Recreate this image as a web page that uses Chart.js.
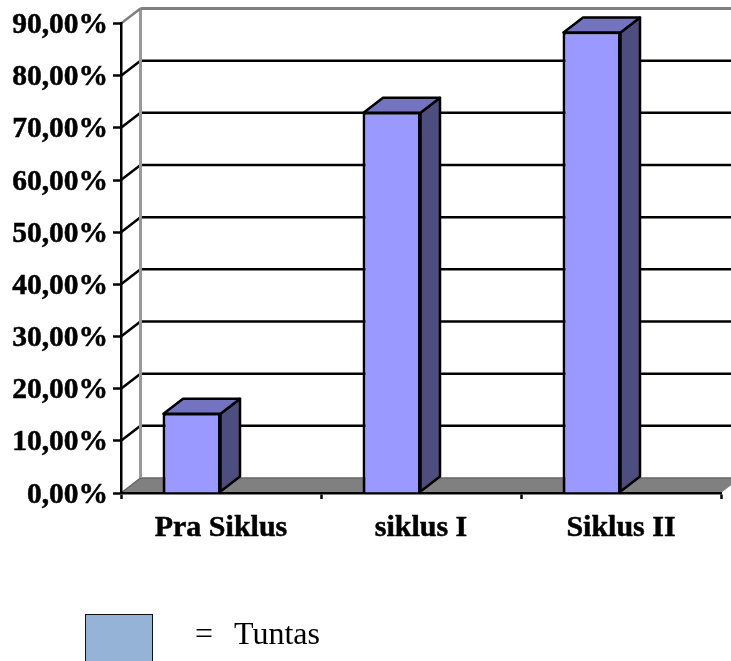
<!DOCTYPE html>
<html>
<head>
<meta charset="utf-8">
<style>
html, body { margin: 0; padding: 0; background: #fff; overflow: hidden; }
#wrap { position: relative; width: 731px; height: 661px; overflow: hidden; }
#grafik { position: absolute; left: 0; top: 0; }
#kotak { position: absolute; left: 85px; top: 614px; width: 68px; height: 60px; background: #95b3d7; border: 1.5px solid #111; box-sizing: border-box; }
.ket { position: absolute; top: 615px; font: 32px "Liberation Serif", serif; color: #000; white-space: pre; line-height: 36px; }
</style>
</head>
<body>
<div id="wrap">
  <canvas id="grafik" width="731" height="661"></canvas>
  <div id="kotak"></div>
  <div class="ket" style="left:195px">=</div>
  <div class="ket" style="left:234px">Tuntas</div>
</div>
<script src="https://cdn.jsdelivr.net/npm/chart.js@4"></script>
<script>
const kategori = ['Pra Siklus', 'siklus I', 'Siklus II'];
const nilaiTuntas = [15.38, 73.08, 88.46];
const labelSumbuY = ['0,00%', '10,00%', '20,00%', '30,00%', '40,00%', '50,00%', '60,00%', '70,00%', '80,00%', '90,00%'];

// kedalaman efek 3D
const DX = 19.5, DY = -15;
const TEBAL = 2.5;
const fontLabel = { family: '"Liberation Serif", serif', size: 30, weight: 'bold' };
const fontSumbuY = { family: '"Liberation Serif", serif', size: 29.5, weight: 'bold' };

function garis(ctx, x1, y1, x2, y2, warna, tebal) {
    ctx.strokeStyle = warna;
    ctx.lineWidth = tebal;
    ctx.beginPath();
    ctx.moveTo(x1, y1);
    ctx.lineTo(x2, y2);
    ctx.stroke();
}

function bidang(ctx, titik, warna) {
    ctx.fillStyle = warna;
    ctx.beginPath();
    titik.forEach((p, i) => i ? ctx.lineTo(p[0], p[1]) : ctx.moveTo(p[0], p[1]));
    ctx.closePath();
    ctx.fill();
    ctx.strokeStyle = '#000';
    ctx.lineWidth = TEBAL;
    ctx.lineJoin = 'round';
    ctx.stroke();
}

const efek3D = {
    id: 'efek3D',
    beforeDraw(chart) {
        const { ctx, chartArea: a, scales: { y } } = chart;
        ctx.save();
        // lantai
        ctx.fillStyle = '#808080';
        ctx.beginPath();
        ctx.moveTo(a.left, a.bottom);
        ctx.lineTo(a.right, a.bottom);
        ctx.lineTo(a.right + DX, a.bottom + DY);
        ctx.lineTo(a.left + DX, a.bottom + DY);
        ctx.closePath();
        ctx.fill();
        garis(ctx, a.left + DX, a.bottom + DY, a.right + DX, a.bottom + DY, '#666', 1.5);
        // garis bantu di dinding belakang
        y.ticks.forEach(t => {
            if (t.value === 0 || t.value === y.max) return;
            const py = y.getPixelForValue(t.value);
            garis(ctx, a.left, py, a.left + DX, py + DY, '#000', TEBAL);
            garis(ctx, a.left + DX, py + DY, a.right + DX, py + DY, '#000', TEBAL);
        });
        // dinding
        const atas = y.getPixelForValue(y.max);
        garis(ctx, a.left + DX, atas + DY, a.left + DX, a.bottom + DY, '#999', 3);
        garis(ctx, a.left, atas, a.left + DX, atas + DY, '#808080', 2.5);
        garis(ctx, a.left + DX, atas + DY, a.right + DX, atas + DY, '#808080', 3);
        garis(ctx, a.left, a.bottom, a.left + DX, a.bottom + DY, '#666', 1.5);
        ctx.restore();
    },
    afterDatasetsDraw(chart) {
        const { ctx } = chart;
        ctx.save();
        chart.getDatasetMeta(0).data.forEach(b => {
            const kiri = b.x - b.width / 2 + 1, kanan = b.x + b.width / 2 - 0.5;
            const atas = b.y + 1, bawah = b.base - 1;
            bidang(ctx, [[kanan, atas], [kanan + DX, atas + DY], [kanan + DX, bawah + DY], [kanan, bawah]], '#4d4d80');
            bidang(ctx, [[kiri, atas], [kiri + DX, atas + DY], [kanan + DX, atas + DY], [kanan, atas]], '#7373bf');
        });
        ctx.restore();
    }
};

new Chart(document.getElementById('grafik'), {
    type: 'bar',
    data: {
        labels: kategori,
        datasets: [
            { label: 'Tuntas', data: nilaiTuntas, backgroundColor: '#9999ff', borderColor: '#000', borderWidth: 3 },
            // slot kosong supaya batang berada di kiri tengah kategori
            { label: '', data: [] }
        ]
    },
    options: {
        responsive: false,
        animation: false,
        layout: { padding: { left: 0, right: 10, top: 23.5, bottom: 0 } },
        categoryPercentage: 0.585,
        barPercentage: 1,
        plugins: { legend: { display: false }, tooltip: { enabled: false } },
        scales: {
            x: {
                afterFit: s => { s.height = 168; },
                grid: { drawOnChartArea: false, tickLength: 6, tickColor: '#000', tickWidth: TEBAL },
                border: { color: '#000', width: TEBAL },
                ticks: { color: '#000', font: fontLabel, padding: 11, maxRotation: 0, textStrokeColor: '#000', textStrokeWidth: 0.5 }
            },
            y: {
                min: 0,
                max: 90,
                afterFit: s => { s.width = 121; },
                grid: { drawOnChartArea: false, tickLength: 8, tickColor: '#000', tickWidth: TEBAL },
                border: { color: '#000', width: TEBAL },
                ticks: {
                    stepSize: 10,
                    color: '#000',
                    font: fontSumbuY,
                    padding: 5,
                    labelOffset: 2,
                    textStrokeColor: '#000',
                    textStrokeWidth: 0.5,
                    callback: (v) => labelSumbuY[v / 10]
                }
            }
        }
    },
    plugins: [efek3D]
});
</script>
</body>
</html>
